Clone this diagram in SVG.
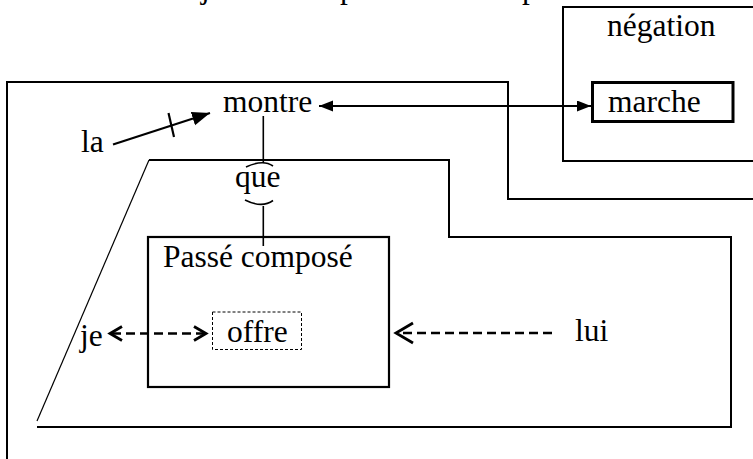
<svg xmlns="http://www.w3.org/2000/svg" width="753" height="459" viewBox="0 0 753 459">
  <style>
    text { font-family: "Liberation Serif", "Times New Roman", serif; font-size: 31.5px; fill: #000; }
    .frame { fill: none; stroke: #000; stroke-width: 2; }
    .thin { fill: none; stroke: #000; stroke-width: 1.2; }
    .link { fill: none; stroke: #000; stroke-width: 1.6; }
    .solid { fill: none; stroke: #000; stroke-width: 2.2; }
    .dash { fill: none; stroke: #000; stroke-width: 2.4; stroke-dasharray: 9 5; }
    .chev { fill: none; stroke: #000; stroke-width: 2.8; stroke-linejoin: miter; }
  </style>
  <defs>
    <marker id="tri" markerUnits="userSpaceOnUse" markerWidth="16" markerHeight="12" refX="14" refY="5.5" orient="auto-start-reverse">
      <path d="M0,0 L14,5.5 L0,11 z" fill="#000"/>
    </marker>
    <marker id="triBig" markerUnits="userSpaceOnUse" markerWidth="20" markerHeight="16" refX="18" refY="7" orient="auto">
      <path d="M0,0 L18,7 L0,14 z" fill="#000"/>
    </marker>
  </defs>

  <!-- descenders of the line running above the top edge -->
  <g id="top-line">
    <text x="201" y="-2">j</text>
    <text x="340" y="-2">p</text>
    <text x="522" y="-2">p</text>
  </g>

  <!-- outer frame around "montre" -->
  <g id="montre-frame">
    <polyline class="frame" points="7,470 7,82 508,82 508,199 760,199"/>
  </g>

  <!-- négation frame -->
  <g id="negation">
    <polyline class="frame" points="760,7 563,7 563,161 760,161"/>
    <text x="607" y="36">négation</text>
  </g>

  <g id="marche">
    <rect x="592.5" y="82.5" width="140.5" height="39" fill="none" stroke="#000" stroke-width="3"/>
    <text x="608" y="112">marche</text>
  </g>

  <!-- subordinate clause frame -->
  <g id="que-frame">
    <line class="thin" x1="37" y1="421" x2="149" y2="160"/>
    <polyline class="frame" points="149,160 449,160 449,237 731,237 731,427 37,427"/>
  </g>

  <g id="montre">
    <text x="223" y="112">montre</text>
  </g>

  <g id="la">
    <text x="81" y="152">la</text>
  </g>

  <g id="que">
    <text x="235" y="187">que</text>
    <path class="link" d="M246,167 Q263,159 273,166"/>
    <path class="link" d="M245,200 Q262,208.5 273,200.5"/>
  </g>

  <g id="passe-compose">
    <rect x="148" y="237" width="241" height="150" fill="none" stroke="#000" stroke-width="2.2"/>
    <text x="163" y="267">Passé composé</text>
  </g>

  <g id="offre">
    <rect x="212.5" y="312" width="89" height="37.5" fill="none" stroke="#000" stroke-width="1" stroke-dasharray="3 2"/>
    <text x="227" y="342">offre</text>
  </g>

  <g id="je">
    <text x="80" y="346">je</text>
  </g>

  <g id="lui">
    <text x="575" y="341">lui</text>
  </g>

  <!-- connectors -->
  <g id="connectors">
    <line class="link" x1="263.3" y1="116" x2="263.3" y2="163"/>
    <line class="link" x1="263.3" y1="206" x2="263.3" y2="246"/>
    <line class="solid" x1="319" y1="106" x2="591" y2="106" marker-start="url(#tri)" marker-end="url(#tri)"/>
    <line class="solid" x1="113" y1="144.5" x2="210" y2="113" marker-end="url(#triBig)"/>
    <line class="solid" x1="168.5" y1="113" x2="174" y2="137"/>
    <!-- je <-> offre -->
    <line class="dash" x1="112" y1="333.5" x2="204" y2="333.5"/>
    <polyline class="chev" points="122,326.5 110,333.5 122,340.5"/>
    <polyline class="chev" points="194,326.5 206,333.5 194,340.5"/>
    <!-- lui -> Passé composé -->
    <line class="dash" x1="552" y1="333" x2="397" y2="333"/>
    <polyline class="chev" points="413,323 396,333 413,343"/>
  </g>
</svg>
